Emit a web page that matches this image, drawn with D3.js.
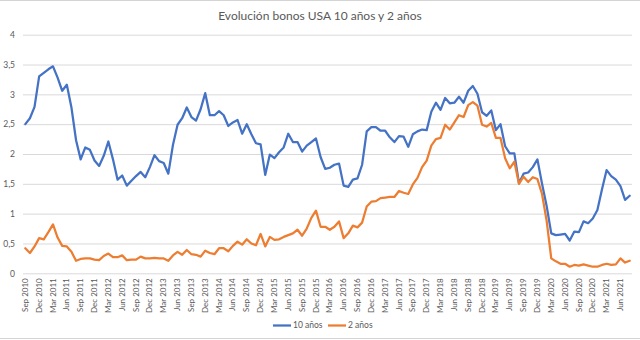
<!DOCTYPE html>
<html>
<head>
<meta charset="utf-8">
<script src="https://cdn.jsdelivr.net/npm/d3@7"></script>
<style>
  html, body { margin: 0; padding: 0; background: #fff; }
  svg { display: block; font-family: Lato, "Open Sans", sans-serif; }
</style>
</head>
<body>
<svg id="chart" width="640" height="340"></svg>
<script>
// ---- data ----
const title = "Evolución bonos USA 10 años y 2 años";
const seriesNames = ["10 años", "2 años"];
const startMonth = new Date(2010, 8, 1);   // Sep 2010
const endMonth = new Date(2021, 8, 1);     // exclusive -> last is Aug 2021

const tenYear = [
  2.50, 2.60, 2.79, 3.30, 3.36, 3.42, 3.47, 3.28, 3.06, 3.16,
  2.78, 2.23, 1.91, 2.11, 2.07, 1.89, 1.80, 1.97, 2.21, 1.91,
  1.57, 1.64, 1.47, 1.55, 1.63, 1.70, 1.61, 1.78, 1.98, 1.88,
  1.85, 1.67, 2.15, 2.49, 2.60, 2.78, 2.62, 2.56, 2.75, 3.02,
  2.65, 2.65, 2.72, 2.65, 2.47, 2.53, 2.57, 2.34, 2.50, 2.33,
  2.18, 2.16, 1.65, 1.99, 1.93, 2.03, 2.11, 2.34, 2.20, 2.20,
  2.04, 2.14, 2.20, 2.26, 1.95, 1.75, 1.77, 1.82, 1.84, 1.47,
  1.45, 1.57, 1.59, 1.82, 2.38, 2.45, 2.45, 2.39, 2.39, 2.28,
  2.20, 2.30, 2.29, 2.12, 2.33, 2.38, 2.41, 2.40, 2.71, 2.86,
  2.74, 2.94, 2.85, 2.86, 2.96, 2.86, 3.06, 3.14, 3.01, 2.70,
  2.64, 2.73, 2.40, 2.50, 2.13, 2.01, 2.01, 1.51, 1.67, 1.69,
  1.78, 1.91, 1.50, 1.13, 0.67, 0.64, 0.65, 0.66, 0.55, 0.70,
  0.69, 0.87, 0.84, 0.92, 1.06, 1.41, 1.73, 1.63, 1.57, 1.46,
  1.23, 1.30
];

const twoYear = [
  0.42, 0.34, 0.45, 0.59, 0.57, 0.69, 0.82, 0.60, 0.46, 0.45,
  0.36, 0.21, 0.24, 0.25, 0.25, 0.23, 0.22, 0.29, 0.33, 0.27,
  0.27, 0.30, 0.22, 0.23, 0.23, 0.28, 0.25, 0.25, 0.26, 0.25,
  0.25, 0.21, 0.30, 0.36, 0.31, 0.39, 0.32, 0.31, 0.28, 0.38,
  0.34, 0.32, 0.42, 0.42, 0.37, 0.46, 0.53, 0.48, 0.57, 0.50,
  0.47, 0.66, 0.45, 0.61, 0.56, 0.57, 0.61, 0.64, 0.67, 0.73,
  0.63, 0.75, 0.93, 1.05, 0.78, 0.78, 0.73, 0.78, 0.87, 0.59,
  0.67, 0.80, 0.77, 0.85, 1.12, 1.20, 1.21, 1.26, 1.27, 1.28,
  1.28, 1.38, 1.35, 1.33, 1.49, 1.60, 1.78, 1.89, 2.14, 2.25,
  2.27, 2.49, 2.41, 2.53, 2.65, 2.62, 2.82, 2.87, 2.81, 2.49,
  2.46, 2.52, 2.27, 2.27, 1.93, 1.76, 1.87, 1.50, 1.62, 1.53,
  1.61, 1.58, 1.33, 0.88, 0.25, 0.20, 0.16, 0.16, 0.11, 0.14,
  0.13, 0.15, 0.13, 0.11, 0.11, 0.14, 0.16, 0.14, 0.15, 0.25,
  0.18, 0.21
];

const yTicks = [0, 0.5, 1, 1.5, 2, 2.5, 3, 3.5, 4];
const yTickLabels = ["0", "0,5", "1", "1,5", "2", "2,5", "3", "3,5", "4"];
const xTickLabels = [
  "Sep 2010","Dec 2010","Mar 2011","Jun 2011","Sep 2011","Dec 2011",
  "Mar 2012","Jun 2012","Sep 2012","Dec 2012","Mar 2013","Jun 2013",
  "Sep 2013","Dec 2013","Mar 2014","Jun 2014","Sep 2014","Dec 2014",
  "Mar 2015","Jun 2015","Sep 2015","Dec 2015","Mar 2016","Jun 2016",
  "Sep 2016","Dec 2016","Mar 2017","Jun 2017","Sep 2017","Dec 2017",
  "Mar 2018","Jun 2018","Sep 2018","Dec 2018","Mar 2019","Jun 2019",
  "Sep 2019","Dec 2019","Mar 2020","Jun 2020","Sep 2020","Dec 2020",
  "Mar 2021","Jun 2021"
];

// ---- layout ----
const fmt = d3.timeFormat("%b %Y");
const categories = d3.timeMonths(startMonth, endMonth).map(fmt);
const colors = ["#4472C4", "#ED7D31"];
const textColor = "#595959";
const gridColor = "#d9d9d9";

const svg = d3.select("#chart");
const plotLeft = 23, plotRight = 632, plotTop = 34.7, plotBottom = 273.3;

const x = d3.scaleBand().domain(categories).range([plotLeft, plotRight]).padding(0);
const cx = c => x(c) + x.bandwidth() / 2;
const y = d3.scaleLinear().domain([0, 4]).range([plotBottom, plotTop]);

// chart border lines (top / bottom of chart area)
svg.append("line").attr("x1", 0).attr("x2", 640).attr("y1", 0.5).attr("y2", 0.5)
  .attr("stroke", "#d4d4d4");
svg.append("line").attr("x1", 0).attr("x2", 640).attr("y1", 338.5).attr("y2", 338.5)
  .attr("stroke", "#d4d4d4");

// title
svg.append("text").attr("x", 320).attr("y", 20).attr("text-anchor", "middle")
  .attr("font-size", 12).attr("fill", textColor).text(title);

// y grid + axis labels
const yAxis = d3.axisLeft(y).tickValues(yTicks)
  .tickFormat((d, i) => yTickLabels[i]).tickSize(-(plotRight - plotLeft)).tickPadding(8);
const gy = svg.append("g").attr("transform", `translate(${plotLeft},0)`).call(yAxis);
gy.select(".domain").remove();
gy.selectAll(".tick line").attr("stroke", gridColor).attr("stroke-width", 1);
gy.selectAll(".tick text").attr("fill", textColor).attr("font-size", 8.5)
  .attr("font-family", "Lato, 'Open Sans', sans-serif");

// x axis labels
const xAxis = d3.axisBottom(x)
  .tickValues(xTickLabels).tickSize(0).tickPadding(0);
const gx = svg.append("g").attr("transform", `translate(0,${plotBottom})`).call(xAxis);
gx.select(".domain").remove();
gx.selectAll(".tick text")
  .attr("transform", "rotate(-90)")
  .attr("text-anchor", "end")
  .attr("x", -5).attr("y", 0).attr("dy", "0.32em")
  .attr("fill", textColor).attr("font-size", 8)
  .attr("font-family", "Lato, 'Open Sans', sans-serif");

// lines
const line = d3.line().x((d, i) => cx(categories[i])).y(d => y(d));
[tenYear, twoYear].forEach((s, k) => {
  svg.append("path").datum(s).attr("d", line)
    .attr("fill", "none").attr("stroke", colors[k])
    .attr("stroke-width", 2.25).attr("stroke-linejoin", "round")
    .attr("stroke-linecap", "round");
});

// legend
const legendItems = [{x: 273, name: seriesNames[0], c: colors[0]},
                     {x: 328, name: seriesNames[1], c: colors[1]}];
const lg = svg.append("g");
legendItems.forEach(it => {
  lg.append("line").attr("x1", it.x).attr("x2", it.x + 18)
    .attr("y1", 325.5).attr("y2", 325.5).attr("stroke", it.c).attr("stroke-width", 2.25);
  lg.append("text").attr("x", it.x + 20).attr("y", 325.5).attr("dy", "0.35em")
    .attr("font-size", 8.5).attr("fill", textColor).text(it.name);
});
</script>
</body>
</html>
